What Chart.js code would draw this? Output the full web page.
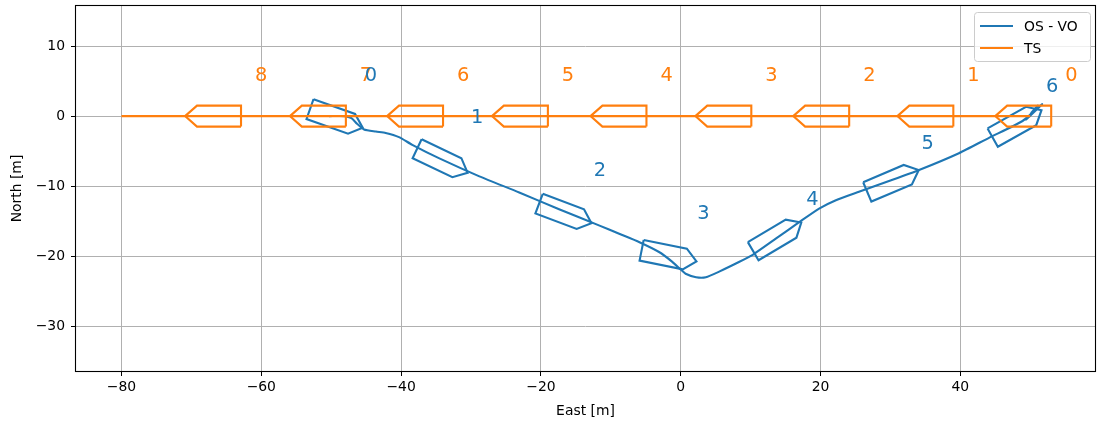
<!DOCTYPE html>
<html>
<head>
<meta charset="utf-8">
<script src="https://cdn.jsdelivr.net/npm/chart.js@4/dist/chart.umd.min.js"></script>
<style>
  html, body { margin: 0; padding: 0; background: #fff; }
  #wrap { width: 1097px; height: 425px; }
  canvas { display: block; }
</style>
</head>
<body>
<div id="wrap"><canvas id="c" width="1097" height="425"></canvas></div>
<script>
// Own ship (VO-controlled) poses at each step: position [m] and heading [deg, CCW from East]
const osStep = [0, 1, 2, 3, 4, 5, 6];
const osX = [-50.2, -35.0, -17.45, -2.65, 12.95, 29.45, 47.25];
const osY = [0.0, -5.95, -13.55, -19.75, -17.75, -9.65, -1.6];
const osHeading = [-19.5, -25.4, -20.5, -11.3, 30.7, 23.0, 29.3];

// Target ship poses
const tsStep = [0, 1, 2, 3, 4, 5, 6, 7, 8];
const tsX = [50.0, 36.0, 21.1, 7.1, -7.9, -22.0, -37.0, -50.9, -65.9];
const tsY = [0, 0, 0, 0, 0, 0, 0, 0, 0];
const tsHeading = [180, 180, 180, 180, 180, 180, 180, 180, 180];

// Own ship track
const osTrackX = [-50.3, -48.1, -47.1, -46.3, -45.3, -43.6, -42.2, -40.3, -38.4, -34.6, -28.8, -23.1,
  -17.4, -11.7, -8.8, -5.9, -3.1, -1.2, 0.0, 0.7, 2.2, 3.6, 5.5, 8.4, 10.3, 13.6, 17.0, 19.8, 22.2,
  25.5, 30.3, 34.1, 39.8, 44.1, 48.9, 51.7, 49.4, 51.1, 50.1];
const osTrackY = [0.0, 0.0, -0.3, -1.1, -1.9, -2.2, -2.4, -3.0, -4.1, -6.0, -8.6, -10.9,
  -13.3, -15.6, -16.8, -18.0, -19.4, -20.8, -21.9, -22.5, -23.0, -23.0, -22.2, -20.8, -19.8, -17.5, -15.1, -13.2, -12.0,
  -10.8, -9.1, -7.7, -5.3, -3.1, -0.7, 1.7, -0.5, 1.5, 0.4];

// Target ship track
const tsTrackX = [50.0, -80.0];
const tsTrackY = [0.0, 0.0];

// Axis ticks
const xTicks = [-80, -60, -40, -20, 0, 20, 40];
const yTicks = [-30, -20, -10, 0, 10];

const BLUE = '#1f77b4';
const ORANGE = '#ff7f0e';
const FONT = "'DejaVu Sans', sans-serif";

// Hull outline in body frame: stern at -3, shoulders at +3.3, bow at +5, beam 3
const hull = [[-3, 1.5], [3.3, 1.5], [5, 0], [3.3, -1.5], [-3, -1.5], [-3, 1.5]];

function outline(x, y, headingDeg) {
  const a = headingDeg * Math.PI / 180;
  const c = Math.cos(a), s = Math.sin(a);
  return hull.map(([u, v]) => ({ x: x + u * c - v * s, y: y + u * s + v * c }));
}

function track(xs, ys) {
  return xs.map((x, i) => ({ x, y: ys[i] }));
}

const lineDs = (label, data, color, order, tension) => ({
  label, data, borderColor: color, backgroundColor: color,
  showLine: true, fill: false, pointRadius: 0, borderWidth: 2.1,
  tension: tension || 0, order
});

const datasets = [];
datasets.push(lineDs('TS', track(tsTrackX, tsTrackY), ORANGE, 0));
tsStep.forEach((k, i) => datasets.push(lineDs('', outline(tsX[i], tsY[i], tsHeading[i]), ORANGE, 0)));
datasets.push(lineDs('OS - VO', track(osTrackX, osTrackY), BLUE, 1, 0.2));
osStep.forEach((k, i) => datasets.push(lineDs('', outline(osX[i], osY[i], osHeading[i]), BLUE, 1)));

const fmt = v => (v < 0 ? '\u2212' + Math.abs(v) : String(v));

// Step numbers beside each hull, frame, and in-plot legend
const overlay = {
  id: 'overlay',
  afterDatasetsDraw(chart) {
    const { ctx, chartArea: a, scales: { x, y } } = chart;
    ctx.save();
    ctx.beginPath();
    ctx.rect(a.left, a.top, a.right - a.left, a.bottom - a.top);
    ctx.clip();
    ctx.font = '19.4px ' + FONT;
    ctx.textAlign = 'left';
    ctx.textBaseline = 'alphabetic';
    ctx.fillStyle = ORANGE;
    tsStep.forEach((k, i) => ctx.fillText(String(k), x.getPixelForValue(tsX[i] + 5), y.getPixelForValue(tsY[i] + 5)));
    ctx.fillStyle = BLUE;
    osStep.forEach((k, i) => ctx.fillText(String(k), x.getPixelForValue(osX[i] + 5), y.getPixelForValue(osY[i] + 5)));
    ctx.restore();

    // axes frame
    ctx.save();
    ctx.strokeStyle = '#000';
    ctx.lineWidth = 1.1;
    ctx.strokeRect(Math.round(a.left) + 0.5, Math.round(a.top) + 0.5,
      Math.round(a.right - a.left) - 1, Math.round(a.bottom - a.top) - 1);
    ctx.restore();

    // legend
    const items = [['OS - VO', BLUE], ['TS', ORANGE]];
    const bx = 974.5, by = 12.5, bw = 116, bh = 49, r = 3;
    ctx.save();
    ctx.beginPath();
    ctx.moveTo(bx + r, by);
    ctx.lineTo(bx + bw - r, by);
    ctx.quadraticCurveTo(bx + bw, by, bx + bw, by + r);
    ctx.lineTo(bx + bw, by + bh - r);
    ctx.quadraticCurveTo(bx + bw, by + bh, bx + bw - r, by + bh);
    ctx.lineTo(bx + r, by + bh);
    ctx.quadraticCurveTo(bx, by + bh, bx, by + bh - r);
    ctx.lineTo(bx, by + r);
    ctx.quadraticCurveTo(bx, by, bx + r, by);
    ctx.closePath();
    ctx.fillStyle = 'rgba(255,255,255,0.8)';
    ctx.fill();
    ctx.strokeStyle = '#cccccc';
    ctx.lineWidth = 1;
    ctx.stroke();
    ctx.font = '13.9px ' + FONT;
    ctx.textBaseline = 'middle';
    ctx.textAlign = 'left';
    items.forEach(([label, color], i) => {
      const ly = 26 + i * 22;
      ctx.strokeStyle = color;
      ctx.lineWidth = 2.1;
      ctx.beginPath();
      ctx.moveTo(980, ly);
      ctx.lineTo(1013, ly);
      ctx.stroke();
      ctx.fillStyle = '#000';
      ctx.fillText(label, 1024, ly + 1);
    });
    ctx.restore();
  }
};

const tickFont = { family: FONT, size: 13.9 };

new Chart(document.getElementById('c'), {
  type: 'scatter',
  data: { datasets },
  options: {
    responsive: false,
    animation: false,
    devicePixelRatio: 1,
    layout: { padding: { left: 0, right: 1, top: 5, bottom: 0 } },
    plugins: { legend: { display: false }, tooltip: { enabled: false } },
    scales: {
      x: {
        type: 'linear', min: -86.65, max: 59.41,
        afterBuildTicks: s => { s.ticks = xTicks.map(v => ({ value: v })); },
        afterFit: s => { s.height = 53; s.paddingLeft = 0; s.paddingRight = 0; },
        grid: { color: '#b0b0b0', lineWidth: 1, tickColor: '#000', tickLength: 4, drawTicks: true },
        border: { display: false },
        ticks: { color: '#000', font: tickFont, padding: 3, maxRotation: 0, autoSkip: false, callback: v => fmt(v) },
        title: { display: true, text: 'East [m]', color: '#000', font: tickFont, padding: { top: 0, bottom: 5 } }
      },
      y: {
        type: 'linear', min: -36.53, max: 15.86,
        afterBuildTicks: s => { s.ticks = yTicks.map(v => ({ value: v })); },
        afterFit: s => { s.width = 75; s.paddingTop = 0; s.paddingBottom = 0; },
        grid: { color: '#b0b0b0', lineWidth: 1, tickColor: '#000', tickLength: 4, drawTicks: true },
        border: { display: false },
        ticks: { color: '#000', font: tickFont, padding: 6, autoSkip: false, callback: v => fmt(v) },
        title: { display: true, text: 'North [m]', color: '#000', font: tickFont, padding: { top: 9, bottom: 0 } }
      }
    }
  },
  plugins: [overlay]
});
</script>
</body>
</html>
